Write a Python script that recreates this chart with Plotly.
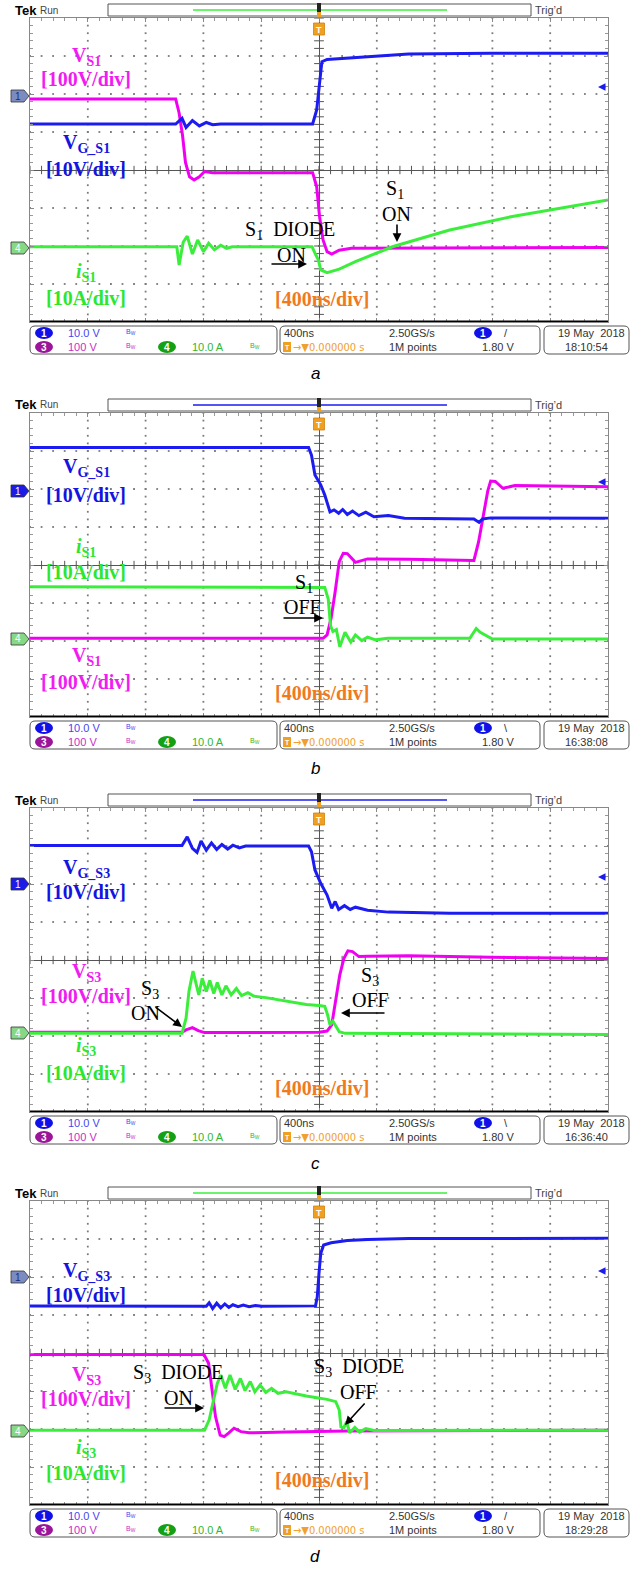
import plotly.graph_objects as go

W, H = 633, 1569

# ---------------- data (x: divisions of 400 ns, trigger at 0; y: screen divisions) ----------------
# panel a
a_vg_x = [-5.0, -2.48, -2.37, -2.30, -2.19, -2.07, -1.95, -1.84, -1.70, -0.11, -0.04, 0.01, 0.05, 0.14, 0.84, 1.55, 2.97, 5.0]
a_vg_y = [1.21, 1.21, 1.36, 1.12, 1.30, 1.16, 1.25, 1.19, 1.21, 1.21, 1.58, 2.28, 2.85, 2.91, 2.98, 3.05, 3.07, 3.07]
a_vs_x = [-5.0, -2.48, -2.42, -2.36, -2.31, -2.24, -2.16, -2.07, -1.98, -1.84, -0.11, -0.04, 0.01, 0.07, 0.14, 0.22, 0.35, 0.56, 5.0]
a_vs_y = [1.87, 1.87, 1.50, 0.90, 0.20, -0.18, -0.26, -0.18, -0.04, -0.07, -0.07, -0.44, -1.23, -1.84, -2.15, -2.21, -2.11, -2.06, -2.04]
a_is_x = [-5.0, -2.46, -2.42, -2.35, -2.28, -2.19, -2.10, -2.00, -1.91, -1.81, -1.70, -1.60, -1.50, -0.12, -0.07, -0.01, 0.03, 0.14, 0.35, 0.63, 1.27, 2.26, 3.32, 4.38, 5.0]
a_is_y = [-2.02, -2.02, -2.50, -1.90, -1.74, -2.21, -1.84, -2.15, -1.93, -2.10, -1.98, -2.06, -2.02, -2.02, -2.19, -2.37, -2.63, -2.70, -2.61, -2.41, -2.02, -1.58, -1.23, -0.95, -0.79]

# panel b
b_vg_x = [-5.0, -0.18, -0.13, -0.07, 0.03, 0.10, 0.19, 0.26, 0.34, 0.41, 0.49, 0.58, 0.69, 0.81, 0.95, 1.20, 1.48, 2.26, 2.68, 2.77, 2.83, 2.97, 5.0]
b_vg_y = [3.09, 3.09, 2.89, 2.37, 2.11, 1.84, 1.40, 1.45, 1.36, 1.46, 1.33, 1.42, 1.30, 1.39, 1.27, 1.30, 1.23, 1.21, 1.21, 1.12, 1.21, 1.24, 1.23]
b_vs_x = [-5.0, 0.07, 0.14, 0.21, 0.28, 0.35, 0.42, 0.49, 0.63, 0.84, 1.55, 2.68, 2.76, 2.84, 2.92, 2.97, 3.05, 3.18, 3.39, 5.0]
b_vs_y = [-1.93, -1.93, -1.84, -1.40, -0.70, 0.09, 0.31, 0.30, 0.07, 0.16, 0.15, 0.12, 0.60, 1.30, 1.95, 2.21, 2.20, 2.02, 2.09, 2.06]
b_is_x = [-5.0, 0.10, 0.16, 0.20, 0.24, 0.30, 0.36, 0.45, 0.55, 0.63, 0.74, 0.84, 0.98, 1.19, 2.61, 2.72, 2.79, 2.90, 3.00, 5.0]
b_is_y = [-0.57, -0.59, -0.90, -1.60, -1.75, -1.70, -2.15, -1.77, -2.03, -1.84, -1.99, -1.90, -1.97, -1.93, -1.93, -1.67, -1.77, -1.86, -1.95, -1.95]

# panel c
c_vg_x = [-5.0, -2.37, -2.28, -2.19, -2.11, -2.04, -1.95, -1.86, -1.77, -1.68, -1.58, -1.49, -1.38, -1.27, -0.18, -0.13, -0.07, 0.03, 0.14, 0.22, 0.28, 0.34, 0.44, 0.54, 0.63, 0.84, 1.20, 2.26, 5.0]
c_vg_y = [3.01, 3.01, 3.24, 2.94, 2.83, 3.13, 2.89, 3.08, 2.91, 3.04, 2.92, 3.02, 2.95, 3.00, 3.00, 2.85, 2.37, 2.02, 1.71, 1.36, 1.54, 1.33, 1.43, 1.33, 1.39, 1.31, 1.26, 1.23, 1.23]
c_vs_x = [-5.0, -2.37, -2.30, -2.19, -2.09, -1.98, 0.0, 0.14, 0.22, 0.29, 0.36, 0.43, 0.50, 0.58, 0.69, 0.84, 1.55, 2.97, 5.0]
c_vs_y = [-1.90, -1.90, -1.84, -1.78, -1.86, -1.91, -1.90, -1.87, -1.71, -1.01, -0.39, 0.04, 0.24, 0.22, 0.09, 0.10, 0.11, 0.07, 0.04]
c_is_x = [-5.0, -2.37, -2.30, -2.25, -2.18, -2.13, -2.08, -2.02, -1.95, -1.89, -1.82, -1.76, -1.68, -1.61, -1.52, -1.43, -1.34, -1.23, -1.13, -0.92, -0.57, -0.22, 0.0, 0.10, 0.15, 0.19, 0.24, 0.29, 0.35, 0.45, 5.0]
c_is_y = [-1.93, -1.93, -1.53, -0.83, -0.29, -0.61, -0.92, -0.48, -0.83, -0.54, -0.88, -0.59, -0.92, -0.68, -0.92, -0.75, -0.94, -0.86, -0.95, -0.99, -1.08, -1.17, -1.20, -1.22, -1.45, -1.71, -1.61, -1.75, -1.89, -1.93, -1.96]

# panel d
d_vg_x = [-5.0, -1.99, -1.95, -1.90, -1.84, -1.77, -1.70, -1.63, -1.56, -1.49, -1.40, -1.31, -1.21, -1.10, -0.99, -0.06, -0.03, 0.0, 0.03, 0.08, 0.21, 0.49, 0.84, 1.55, 5.0]
d_vg_y = [1.24, 1.24, 1.23, 1.32, 1.17, 1.31, 1.19, 1.29, 1.20, 1.27, 1.22, 1.26, 1.22, 1.25, 1.23, 1.24, 1.48, 2.10, 2.62, 2.84, 2.90, 2.96, 2.99, 3.01, 3.02]
d_vs_x = [-5.0, -1.99, -1.91, -1.86, -1.79, -1.71, -1.64, -1.56, -1.47, -1.35, -1.21, -0.57, 0.14, 0.49, 5.0]
d_vs_y = [-0.04, -0.04, -0.27, -0.89, -1.68, -2.16, -2.20, -2.10, -1.98, -2.07, -2.10, -2.08, -2.07, -2.05, -2.03]
d_is_x = [-5.0, -1.98, -1.90, -1.83, -1.76, -1.70, -1.62, -1.54, -1.45, -1.36, -1.28, -1.19, -1.11, -1.02, -0.92, -0.82, -0.71, -0.57, -0.22, 0.14, 0.29, 0.35, 0.38, 0.43, 0.48, 0.53, 0.62, 0.70, 0.81, 0.95, 5.0]
d_is_y = [-2.03, -2.03, -1.76, -1.24, -0.80, -0.58, -0.93, -0.58, -0.96, -0.67, -0.99, -0.75, -1.02, -0.84, -1.04, -0.93, -1.06, -1.02, -1.13, -1.22, -1.28, -1.50, -1.94, -1.96, -1.81, -2.10, -1.96, -2.08, -1.99, -2.04, -2.03]

captions = ["a", "b", "c", "d"]
clock_times = ["18:10:54", "16:38:08", "16:36:40", "18:29:28"]
trig_slopes = ["/", "\\", "\\", "/"]

# ---------------- styling ----------------
BLUE = "#1c1cf0"
MAG = "#f000f0"
GRN = "#3cee3c"
LBL_BLUE = "#1414e0"
LBL_MAG = "#f01cf0"
LBL_GRN = "#2ee62e"
ORANGE = "#f07a1e"
SERIF = "Liberation Serif"
SANS = "Liberation Sans"

GX0, GX1 = 30, 608
GY0, GY1 = 18, 322


def X(p):
    return p / W


def Y(p):
    return 1 - p / H


panels = [
    dict(off=0, vg=(a_vg_x, a_vg_y), vs=(a_vs_x, a_vs_y), i=(a_is_x, a_is_y), bar=GRN,
         tag1=(96, "#7d8cc0", "#1a2a80"), tag4=248, rarrow=87),
    dict(off=395, vg=(b_vg_x, b_vg_y), vs=(b_vs_x, b_vs_y), i=(b_is_x, b_is_y), bar=BLUE,
         tag1=(96, "#1c1ce6", "white"), tag4=244, rarrow=87),
    dict(off=790, vg=(c_vg_x, c_vg_y), vs=(c_vs_x, c_vs_y), i=(c_is_x, c_is_y), bar=BLUE,
         tag1=(94, "#1c1ce6", "white"), tag4=243, rarrow=87),
    dict(off=1183, vg=(d_vg_x, d_vg_y), vs=(d_vs_x, d_vs_y), i=(d_is_x, d_is_y), bar=GRN,
         tag1=(94, "#7d8cc0", "#1a2a80"), tag4=248, rarrow=88),
]

fig = go.Figure()
shapes = []
ann = []
layout_axes = {}


def txt(s, x, y, size, color, family=SANS, xanchor="left", yanchor="middle"):
    ann.append(dict(text=s, x=X(x), y=Y(y), xref="paper", yref="paper", showarrow=False,
                    xanchor=xanchor, yanchor=yanchor,
                    font=dict(size=size, color=color, family=family)))


def arrow(hx, hy, tx, ty):
    ann.append(dict(text="", x=X(hx), y=Y(hy), xref="paper", yref="paper", showarrow=True,
                    ax=tx - hx, ay=ty - hy, arrowhead=2, arrowsize=1.1, arrowwidth=1.6,
                    arrowcolor="black", standoff=0, startstandoff=0))


def rrect(x0, y0, x1, y1, r, line="#555", fill="white", width=1):
    path = (f"M {X(x0 + r)},{Y(y0)} L {X(x1 - r)},{Y(y0)} Q {X(x1)},{Y(y0)} {X(x1)},{Y(y0 + r)} "
            f"L {X(x1)},{Y(y1 - r)} Q {X(x1)},{Y(y1)} {X(x1 - r)},{Y(y1)} "
            f"L {X(x0 + r)},{Y(y1)} Q {X(x0)},{Y(y1)} {X(x0)},{Y(y1 - r)} "
            f"L {X(x0)},{Y(y0 + r)} Q {X(x0)},{Y(y0)} {X(x0 + r)},{Y(y0)} Z")
    shapes.append(dict(type="path", path=path, xref="paper", yref="paper",
                       line=dict(color=line, width=width), fillcolor=fill, layer="below"))


def rect(x0, y0, x1, y1, fill, line=None, width=1):
    shapes.append(dict(type="rect", xref="paper", yref="paper", x0=X(x0), x1=X(x1), y0=Y(y1), y1=Y(y0),
                       fillcolor=fill, line=dict(color=line or fill, width=width if line else 0)))


def hline(x0, x1, y, color, width):
    shapes.append(dict(type="line", xref="paper", yref="paper", x0=X(x0), x1=X(x1), y0=Y(y), y1=Y(y),
                       line=dict(color=color, width=width)))


def pill(cx, cy, fill, label):
    shapes.append(dict(type="circle", xref="paper", yref="paper", x0=X(cx - 9), x1=X(cx + 9),
                       y0=Y(cy + 6), y1=Y(cy - 6), fillcolor=fill, line=dict(width=0)))
    txt(f"<b>{label}</b>", cx, cy, 10, "white", SANS, "center")


def tag(y, fill, fcol, label):
    path = (f"M {X(11)},{Y(y - 6)} L {X(24)},{Y(y - 6)} L {X(29)},{Y(y)} L {X(24)},{Y(y + 6)} "
            f"L {X(11)},{Y(y + 6)} Z")
    shapes.append(dict(type="path", path=path, xref="paper", yref="paper",
                       line=dict(color="#333", width=0.8), fillcolor=fill))
    txt(label, 18, y, 10, fcol, SANS, "center")


tick_x = [k * 0.2 for k in range(-25, 26)]
tick_y = [k * 0.2 for k in range(-20, 21)]
# dotted graticule (dots every 1/5 division along each division line)
dot_x, dot_y = [], []
for gx in [-4, -3, -2, -1, 1, 2, 3, 4]:
    for t in tick_y:
        dot_x.append(gx)
        dot_y.append(t)
for gy in [-3, -2, -1, 1, 2, 3]:
    for t in tick_x:
        dot_x.append(t)
        dot_y.append(gy)

for k, p in enumerate(panels):
    n = k + 1
    xa = "x" if n == 1 else f"x{n}"
    ya = "y" if n == 1 else f"y{n}"
    off = p["off"]

    fig.add_trace(go.Scatter(x=dot_x, y=dot_y, mode="markers", xaxis=xa, yaxis=ya,
                             marker=dict(symbol="square", size=1.8, color="#7a7a7a", line=dict(width=0)),
                             hoverinfo="skip", showlegend=False))
    # centre graticule ticks
    fig.add_trace(go.Scatter(x=tick_x, y=[0] * len(tick_x), mode="markers", xaxis=xa, yaxis=ya,
                             marker=dict(symbol="line-ns", size=6, line=dict(width=1, color="#555")),
                             hoverinfo="skip", showlegend=False))
    fig.add_trace(go.Scatter(x=[0] * len(tick_y), y=tick_y, mode="markers", xaxis=xa, yaxis=ya,
                             marker=dict(symbol="line-ew", size=7, line=dict(width=1, color="#555")),
                             hoverinfo="skip", showlegend=False))
    for (xs, ys), col in [(p["vs"], MAG), (p["vg"], BLUE), (p["i"], GRN)]:
        fig.add_trace(go.Scatter(x=xs, y=ys, mode="lines", xaxis=xa, yaxis=ya,
                                 line=dict(color=col, width=3), hoverinfo="skip", showlegend=False))

    common = dict(showticklabels=False, showgrid=False,
                  zeroline=True, zerolinecolor="#555", zerolinewidth=1.4,
                  ticks="inside", ticklen=4, tickcolor="#888", showline=True, linecolor="#888",
                  linewidth=1, mirror="ticks", fixedrange=True)
    layout_axes["xaxis" if n == 1 else f"xaxis{n}"] = dict(
        common, domain=[X(GX0), X(GX1)], range=[-5, 5], dtick=1, anchor=ya,
        minor=dict(ticks="inside", ticklen=3, tickcolor="#999", dtick=0.2))
    layout_axes["yaxis" if n == 1 else f"yaxis{n}"] = dict(
        common, domain=[Y(off + GY1), Y(off + GY0)], range=[-4, 4], dtick=1, anchor=xa,
        minor=dict(ticks="inside", ticklen=3, tickcolor="#999", dtick=0.2))
    # thick bottom border
    shapes.append(dict(type="line", xref=xa, yref=ya, x0=-5, x1=5, y0=-4, y1=-4,
                       line=dict(color="black", width=3)))

    # ---- header ----
    txt("<b>Tek</b>", 13, off + 10, 13, "black", SANS)
    txt("Run", 38, off + 10, 10, "#444", SANS)
    rect(108, off + 4, 531, off + 16, "white", "#555", 1)
    hline(193, 447, off + 10, p["bar"], 1.5)
    rect(317, off + 3, 321, off + 17, "#222")
    rect(317, off + 12, 321, off + 17, "#f0a020")
    rect(313.5, off + 23, 324.5, off + 35, "#f0a020", "#d08010", 0.8)
    txt("<b>T</b>", 319, off + 29.5, 9, "white", SANS, "center")
    txt("Trig’d", 533, off + 10, 11, "#444", SANS)

    # channel tags + right arrow
    ty1, tfill, tcol = p["tag1"]
    tag(off + ty1, tfill, tcol, "1")
    tag(off + p["tag4"], "#86d886", "white", "4")
    ann.append(dict(text="", x=X(598), y=Y(off + p["rarrow"]), xref="paper", yref="paper",
                    showarrow=True, ax=9, ay=0, arrowhead=2, arrowsize=1, arrowwidth=1.5,
                    arrowcolor=BLUE, standoff=0))

    # ---- status bar ----
    rrect(30, off + 326, 277, off + 354, 5)
    rrect(280, off + 326, 540, off + 354, 5)
    rrect(544, off + 326, 629, off + 354, 5)
    r1, r2 = off + 333, off + 347
    pill(44, r1, "#1010e8", "1")
    txt("10.0 V", 66, r1, 11, "#4646f0")
    txt("B<sub>W</sub>", 124, r1 - 1, 7, "#4646f0")
    pill(44, r2, "#9a159a", "3")
    txt("100 V", 66, r2, 11, "#c82cc8")
    txt("B<sub>W</sub>", 124, r2 - 1, 7, "#c82cc8")
    pill(167, r2, "#14a014", "4")
    txt("10.0 A", 190, r2, 11, "#30b830")
    txt("B<sub>W</sub>", 248, r2 - 1, 7, "#30b830")
    txt("400ns", 282, r1, 11, "#333")
    txt("2.50GS/s", 387, r1, 11, "#333")
    pill(483, r1, "#1010e8", "1")
    txt(trig_slopes[k], 502, r1, 11, "#333")
    rect(283, r2 - 5, 291, r2 + 5, "#f0a020")
    txt("<b>T</b>", 287, r2, 7, "white", SANS, "center")
    txt("→▼0.000000 s", 291, r2, 11, "#f0a030", "DejaVu Sans Condensed, DejaVu Sans")
    txt("1M points", 387, r2, 11, "#333")
    txt("1.80 V", 480, r2, 11, "#333")
    txt("19 May  2018", 627, r1, 11, "#333", SANS, "right")
    txt(clock_times[k], 563, r2, 11, "#333")

    # caption
    txt(f"<i>{captions[k]}</i>", 315, off + 373, 17, "black", SANS, "center")

# ---- waveform labels ----
FS = 20


def lab(s, x, y, color, size=FS, anchor="center"):
    txt(s, x, y, size, color, SERIF, anchor)


# a
lab("<b>V<sub>S1</sub></b>", 86, 56, LBL_MAG)
lab("<b>[100V/div]</b>", 86, 79, LBL_MAG)
lab("<b>V<sub>G_S1</sub></b>", 86, 144, LBL_BLUE)
lab("<b>[10V/div]</b>", 86, 169, LBL_BLUE)
lab("<b><i>i</i><sub>S1</sub></b>", 86, 272, LBL_GRN)
lab("<b>[10A/div]</b>", 86, 298, LBL_GRN)
lab("<b>[400ns/div]</b>", 322, 299, ORANGE)
lab("S<sub>1</sub>  DIODE", 290, 230, "black")
lab("ON", 291, 255, "black")
arrow(307, 264, 270, 264)
lab("S<sub>1</sub>", 395, 189, "black")
lab("ON", 396, 214, "black")
arrow(397, 242, 397, 223)

# b
o = 395
lab("<b>V<sub>G_S1</sub></b>", 86, o + 72, LBL_BLUE)
lab("<b>[10V/div]</b>", 86, o + 100, LBL_BLUE)
lab("<b><i>i</i><sub>S1</sub></b>", 86, o + 152, LBL_GRN)
lab("<b>[10A/div]</b>", 86, o + 177, LBL_GRN)
lab("S<sub>1</sub>", 304, o + 188, "black")
lab("OFF", 302, o + 212, "black")
arrow(323, o + 223, 282, o + 223)
lab("<b>V<sub>S1</sub></b>", 86, o + 261, LBL_MAG)
lab("<b>[100V/div]</b>", 86, o + 287, LBL_MAG)
lab("<b>[400ns/div]</b>", 322, o + 298, ORANGE)

# c
o = 790
lab("<b>V<sub>G_S3</sub></b>", 86, o + 78, LBL_BLUE)
lab("<b>[10V/div]</b>", 86, o + 102, LBL_BLUE)
lab("<b>V<sub>S3</sub></b>", 86, o + 182, LBL_MAG)
lab("<b>[100V/div]</b>", 86, o + 206, LBL_MAG)
lab("S<sub>3</sub>", 150, o + 200, "black")
lab("ON", 145, o + 223, "black")
arrow(182, o + 237, 154, o + 216)
lab("S<sub>3</sub>", 370, o + 186, "black")
lab("OFF", 370, o + 210, "black")
arrow(341, o + 223, 386, o + 223)
lab("<b><i>i</i><sub>S3</sub></b>", 86, o + 256, LBL_GRN)
lab("<b>[10A/div]</b>", 86, o + 283, LBL_GRN)
lab("<b>[400ns/div]</b>", 322, o + 298, ORANGE)

# d
o = 1183
lab("<b>V<sub>G_S3</sub></b>", 86, o + 88, LBL_BLUE)
lab("<b>[10V/div]</b>", 86, o + 112, LBL_BLUE)
lab("<b>V<sub>S3</sub></b>", 86, o + 192, LBL_MAG)
lab("<b>[100V/div]</b>", 86, o + 216, LBL_MAG)
lab("S<sub>3</sub>  DIODE", 178, o + 190, "black")
lab("ON", 178, o + 215, "black")
arrow(204, o + 225, 163, o + 225)
lab("S<sub>3</sub>  DIODE", 359, o + 184, "black")
lab("OFF", 358, o + 209, "black")
arrow(345, o + 242, 366, o + 219)
lab("<b><i>i</i><sub>S3</sub></b>", 86, o + 265, LBL_GRN)
lab("<b>[10A/div]</b>", 86, o + 290, LBL_GRN)
lab("<b>[400ns/div]</b>", 322, o + 297, ORANGE)

fig.update_layout(width=W, height=H, margin=dict(l=0, r=0, t=0, b=0),
                  paper_bgcolor="white", plot_bgcolor="white", showlegend=False,
                  shapes=shapes, annotations=ann, **layout_axes)
fig.write_html("out.html", config=dict(displayModeBar=False))
